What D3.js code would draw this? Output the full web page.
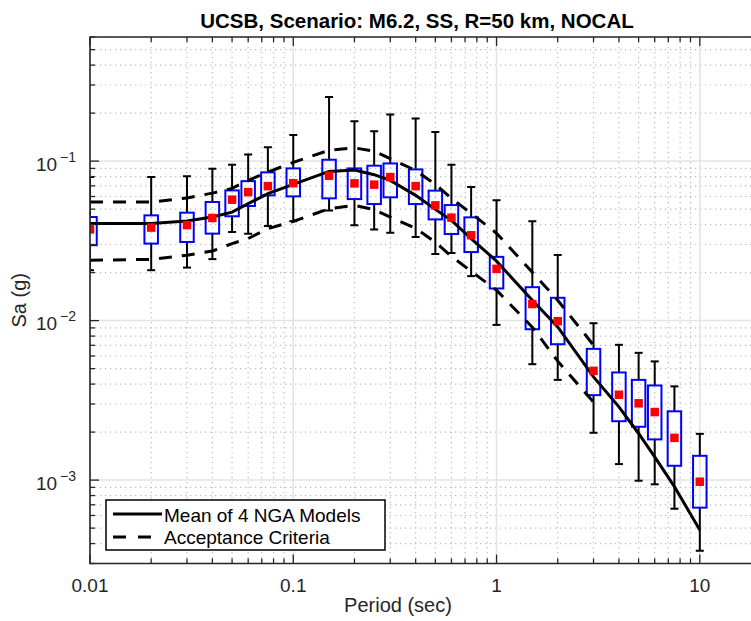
<!DOCTYPE html>
<html>
<head>
<meta charset="utf-8">
<script src="https://cdn.jsdelivr.net/npm/d3@7"></script>
<style>
  body { margin: 0; background: #fff; }
  svg { font-family: "Liberation Sans", Arial, sans-serif; }
  .grid-major { stroke: #e3e3e3; stroke-width: 1.5; }
  .grid-minor { stroke: #bdbdbd; stroke-width: 1.2; stroke-dasharray: 1.3 3.7; }
  .tick { stroke: #262626; stroke-width: 1.3; }
  .frame { stroke: #262626; stroke-width: 1.6; fill: none; }
  .lbl { fill: #262626; }
</style>
</head>
<body>
<script>
var periods = [0.01, 0.02, 0.03, 0.04, 0.05, 0.06, 0.075, 0.1, 0.15, 0.2, 0.25, 0.3, 0.4, 0.5, 0.6, 0.75, 1, 1.5, 2, 3, 4, 5, 6, 7.5, 10];
var medianSa = [0.0373, 0.0383, 0.0397, 0.0440, 0.0573, 0.0639, 0.0697, 0.0727, 0.0810, 0.0725, 0.0712, 0.0794, 0.0697, 0.0528, 0.0442, 0.0343, 0.0211, 0.0127, 0.00991, 0.00484, 0.00343, 0.00303, 0.00267, 0.00184, 0.000977];
var boxHigh = [0.0446, 0.0457, 0.0475, 0.0554, 0.0655, 0.0749, 0.0850, 0.0900, 0.102, 0.0900, 0.0936, 0.0967, 0.0887, 0.0653, 0.0530, 0.0444, 0.0251, 0.0162, 0.0139, 0.00665, 0.00473, 0.00425, 0.00392, 0.00270, 0.00142];
var boxLow = [0.0297, 0.0304, 0.0311, 0.0351, 0.0451, 0.0523, 0.0610, 0.0601, 0.0584, 0.0578, 0.0538, 0.0593, 0.0538, 0.0431, 0.0349, 0.0269, 0.0159, 0.00883, 0.00711, 0.00341, 0.00234, 0.00216, 0.00180, 0.00123, 0.000672];
var whiskHigh = [0.0794, 0.0794, 0.0805, 0.0896, 0.0949, 0.110, 0.122, 0.146, 0.252, 0.178, 0.154, 0.196, 0.185, 0.152, 0.0949, 0.0688, 0.0568, 0.0419, 0.0258, 0.00963, 0.00705, 0.00628, 0.00555, 0.00387, 0.00195];
var whiskLow = [0.0207, 0.0207, 0.0215, 0.0243, 0.0359, 0.0351, 0.0392, 0.0419, 0.0491, 0.0396, 0.0372, 0.0356, 0.0334, 0.0262, 0.0265, 0.0190, 0.0094, 0.00533, 0.00425, 0.00198, 0.00126, 0.000991, 0.000941, 0.000662, 0.000361];
var meanNGA = [0.0406, 0.0406, 0.0421, 0.0446, 0.0479, 0.0541, 0.0625, 0.0715, 0.0862, 0.0878, 0.0822, 0.0757, 0.0610, 0.0498, 0.0425, 0.0327, 0.0236, 0.0134, 0.00913, 0.00444, 0.00288, 0.00196, 0.00140, 0.00091, 0.000487];
var critPeriods = [0.01, 0.02, 0.03, 0.04, 0.05, 0.06, 0.075, 0.1, 0.15, 0.2, 0.25, 0.3, 0.4, 0.5, 0.6, 0.75, 1, 1.5, 2, 3];
var critUpper = [0.0554, 0.0554, 0.0587, 0.0630, 0.0675, 0.0757, 0.0853, 0.0981, 0.117, 0.121, 0.1155, 0.1035, 0.0875, 0.0715, 0.0584, 0.0470, 0.0353, 0.0201, 0.0134, 0.00702];
var critLower = [0.0239, 0.0242, 0.0257, 0.0273, 0.0304, 0.0327, 0.0377, 0.0419, 0.0503, 0.0528, 0.0496, 0.0446, 0.0379, 0.0310, 0.0253, 0.0204, 0.0155, 0.00909, 0.00557, 0.00308];
var xTickValues = [0.01, 0.1, 1, 10];
var xTickLabels = ['0.01', '0.1', '1', '10'];
var yTickValues = [0.001, 0.01, 0.1];
var yTickExponents = ['-3', '-2', '-1'];
var legendLabels = ['Mean of 4 NGA Models', 'Acceptance Criteria'];
var titleText = 'UCSB, Scenario: M6.2, SS, R=50 km, NOCAL';

(function() {
  var width = 751;
  var height = 621;
  var left = 90, top = 37, bottom = 563.5;
  var right = 761;
  var xScale = d3.scaleLog().domain([0.01, 20]).range([left, right]);
  var yScale = d3.scaleLog().domain([3e-4, 0.6]).range([bottom, top]);

  var svg = d3.select('body')
    .append('svg')
    .attr('width', width)
    .attr('height', height);

  svg.append('clipPath')
    .attr('id', 'plot-area')
    .append('rect')
    .attr('x', left)
    .attr('y', top)
    .attr('width', right - left)
    .attr('height', bottom - top);

  // minor / major tick values in the domain
  function decadeTicks(lo, hi) {
    var minor = [], major = [];
    for (var e = -4; e <= 1; e++) {
      for (var m = 1; m <= 9; m++) {
        var v = m * Math.pow(10, e);
        v = +v.toPrecision(3);
        if (v < lo * 0.999 || v > hi * 1.001) continue;
        if (m === 1) major.push(v); else minor.push(v);
      }
    }
    return { minor: minor, major: major };
  }
  var xt = decadeTicks(0.01, 20);
  var yt = decadeTicks(3e-4, 0.6);

  // grid
  var grid = svg.append('g');
  grid.selectAll('.gxm').data(xt.minor).enter().append('line')
    .attr('class', 'grid-minor')
    .attr('x1', d => xScale(d)).attr('x2', d => xScale(d))
    .attr('y1', top).attr('y2', bottom);
  grid.selectAll('.gym').data(yt.minor).enter().append('line')
    .attr('class', 'grid-minor')
    .attr('y1', d => yScale(d)).attr('y2', d => yScale(d))
    .attr('x1', left).attr('x2', right);
  grid.selectAll('.gxM').data(xt.major).enter().append('line')
    .attr('class', 'grid-major')
    .attr('x1', d => xScale(d)).attr('x2', d => xScale(d))
    .attr('y1', top).attr('y2', bottom);
  grid.selectAll('.gyM').data(yt.major).enter().append('line')
    .attr('class', 'grid-major')
    .attr('y1', d => yScale(d)).attr('y2', d => yScale(d))
    .attr('x1', left).attr('x2', right);

  var plot = svg.append('g').attr('clip-path', 'url(#plot-area)');
  var idx = d3.range(periods.length);
  var boxW = 13.5, capW = 8;

  // whiskers (outside the box only)
  plot.selectAll('.wh').data(idx).enter().append('line')
    .attr('x1', i => xScale(periods[i])).attr('x2', i => xScale(periods[i]))
    .attr('y1', i => yScale(whiskHigh[i])).attr('y2', i => yScale(boxHigh[i]))
    .attr('stroke', '#000').attr('stroke-width', 2);
  plot.selectAll('.wl').data(idx).enter().append('line')
    .attr('x1', i => xScale(periods[i])).attr('x2', i => xScale(periods[i]))
    .attr('y1', i => yScale(boxLow[i])).attr('y2', i => yScale(whiskLow[i]))
    .attr('stroke', '#000').attr('stroke-width', 2);
  [whiskHigh, whiskLow].forEach(function(arr) {
    plot.append('g').selectAll('line').data(idx).enter().append('line')
      .attr('x1', i => xScale(periods[i]) - capW / 2)
      .attr('x2', i => xScale(periods[i]) + capW / 2)
      .attr('y1', i => yScale(arr[i])).attr('y2', i => yScale(arr[i]))
      .attr('stroke', '#000').attr('stroke-width', 2);
  });

  // boxes
  plot.selectAll('.box').data(idx).enter().append('rect')
    .attr('x', i => xScale(periods[i]) - boxW / 2)
    .attr('y', i => yScale(boxHigh[i]))
    .attr('width', boxW)
    .attr('height', i => yScale(boxLow[i]) - yScale(boxHigh[i]))
    .attr('fill', 'none').attr('stroke', '#0000ff').attr('stroke-width', 2);

  // mean and acceptance lines
  var line = d3.line().x(d => xScale(d[0])).y(d => yScale(d[1]));
  plot.append('path')
    .datum(d3.zip(periods, meanNGA))
    .attr('d', line)
    .attr('fill', 'none').attr('stroke', '#000').attr('stroke-width', 3);
  [critUpper, critLower].forEach(function(arr) {
    plot.append('path')
      .datum(d3.zip(critPeriods, arr))
      .attr('d', line)
      .attr('fill', 'none').attr('stroke', '#000').attr('stroke-width', 3)
      .attr('stroke-dasharray', '13 10');
  });

  // medians
  var mk = 8.5;
  plot.selectAll('.med').data(idx).enter().append('rect')
    .attr('x', i => xScale(periods[i]) - mk / 2)
    .attr('y', i => yScale(medianSa[i]) - mk / 2)
    .attr('width', mk).attr('height', mk)
    .attr('fill', '#ff0000');

  // ticks (inward)
  var ticks = svg.append('g');
  function addTicks(vals, len, isX) {
    vals.forEach(function(v) {
      if (isX) {
        var x = xScale(v);
        ticks.append('line').attr('class', 'tick').attr('x1', x).attr('x2', x).attr('y1', bottom).attr('y2', bottom - len);
        ticks.append('line').attr('class', 'tick').attr('x1', x).attr('x2', x).attr('y1', top).attr('y2', top + len);
      } else {
        var y = yScale(v);
        ticks.append('line').attr('class', 'tick').attr('x1', left).attr('x2', left + len).attr('y1', y).attr('y2', y);
      }
    });
  }
  addTicks(xt.minor, 5, true);
  addTicks(xt.major, 9, true);
  addTicks(yt.minor, 5, false);
  addTicks(yt.major, 9, false);

  // frame
  svg.append('path').attr('class', 'frame')
    .attr('d', 'M' + right + ',' + top + 'H' + left + 'V' + bottom + 'H' + right);

  // tick labels
  svg.selectAll('.xl').data(xTickValues).enter().append('text')
    .attr('class', 'lbl')
    .attr('x', d => xScale(d)).attr('y', 592)
    .attr('text-anchor', 'middle').attr('font-size', 19)
    .text((d, i) => xTickLabels[i]);

  var yl = svg.selectAll('.yl').data(yTickValues).enter().append('text')
    .attr('class', 'lbl')
    .attr('x', 76).attr('y', d => yScale(d) + 9.5)
    .attr('text-anchor', 'end').attr('font-size', 19);
  yl.append('tspan').text('10');
  yl.append('tspan').attr('dx', 3).attr('dy', -9).attr('font-size', 14)
    .text((d, i) => yTickExponents[i].replace('-', '\u2212'));

  // axis titles
  svg.append('text').attr('class', 'lbl')
    .attr('x', 398).attr('y', 612)
    .attr('text-anchor', 'middle').attr('font-size', 20)
    .text('Period (sec)');
  svg.append('text').attr('class', 'lbl')
    .attr('transform', 'translate(26,' + ((top + bottom) / 2) + ') rotate(-90)')
    .attr('text-anchor', 'middle').attr('font-size', 20)
    .text('Sa (g)');
  svg.append('text')
    .attr('x', 417).attr('y', 27.5)
    .attr('text-anchor', 'middle').attr('font-size', 20.5).attr('font-weight', 'bold')
    .attr('fill', '#000')
    .text(titleText);

  // legend
  var lg = svg.append('g');
  lg.append('rect')
    .attr('x', 106).attr('y', 500).attr('width', 279).attr('height', 50)
    .attr('fill', '#fff').attr('stroke', '#000').attr('stroke-width', 1.5);
  lg.append('line').attr('x1', 113).attr('x2', 162).attr('y1', 514).attr('y2', 514)
    .attr('stroke', '#000').attr('stroke-width', 3);
  lg.append('line').attr('x1', 113).attr('x2', 162).attr('y1', 537).attr('y2', 537)
    .attr('stroke', '#000').attr('stroke-width', 3).attr('stroke-dasharray', '13 12');
  lg.selectAll('text').data(legendLabels).enter().append('text')
    .attr('x', 164).attr('y', (d, i) => 521.5 + i * 22.5)
    .attr('font-size', 19).attr('fill', '#000')
    .text(d => d);
})();
</script>
</body>
</html>
